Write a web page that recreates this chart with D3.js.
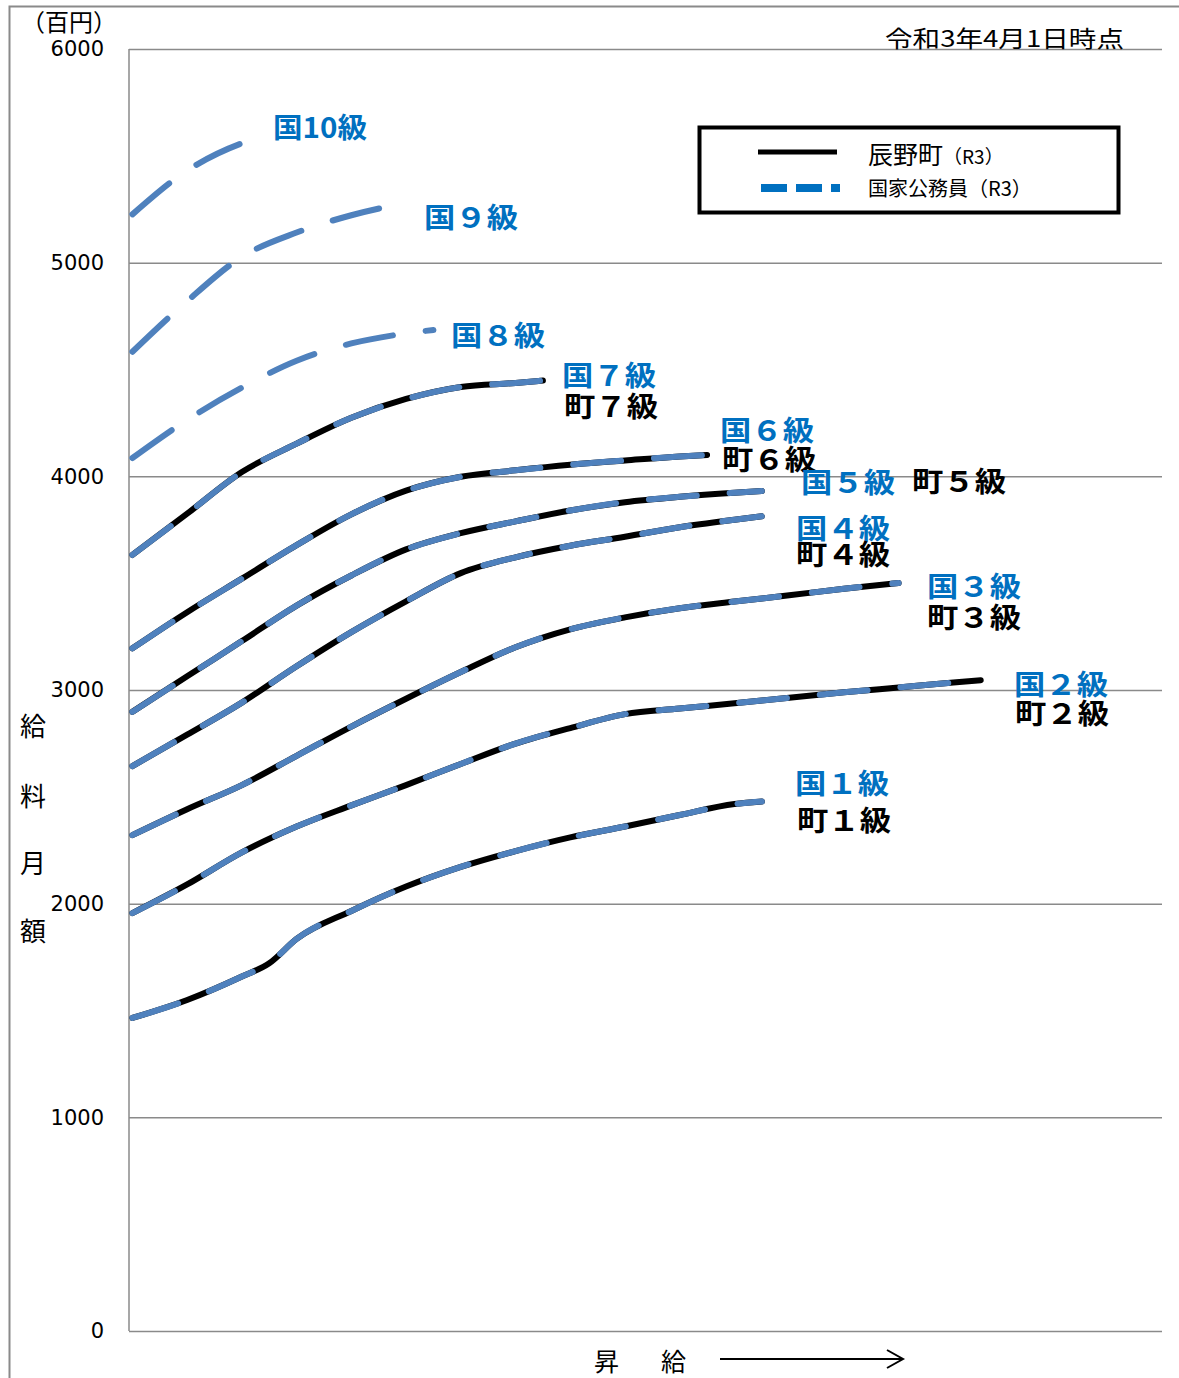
<!DOCTYPE html>
<html>
<head>
<meta charset="utf-8">
<title>給料月額 辰野町・国家公務員</title>
<style>
  body { margin: 0; background: #fff; }
  svg text { font-family: "Noto Sans CJK JP", sans-serif; }
  .tick text { font-family: "DejaVu Sans", sans-serif; font-size: 21px; fill: #000; }
  .tick line { stroke: #8a8a8a; stroke-width: 1.5; }
</style>
</head>
<body>
<div id="chart"></div>
<script src="https://cdn.jsdelivr.net/npm/d3@7/dist/d3.min.js"></script>
<script>
(function(d3) {
  'use strict';

  // 号給 (x) and 給料月額 in 百円 (y), one pair per 級
  var steps1 = [1, 9, 17, 21, 25, 33, 41, 49, 57, 65, 73, 81, 89, 93];
  var pay1   = [1465, 1549, 1659, 1721, 1835, 1966, 2080, 2172, 2246, 2310, 2361, 2415, 2466, 2478];
  var steps2 = [1, 9, 17, 25, 33, 41, 49, 57, 65, 73, 81, 89, 97, 105, 113, 121, 125];
  var pay2   = [1956, 2090, 2240, 2361, 2460, 2555, 2654, 2749, 2822, 2887, 2913, 2938, 2964, 2989, 3012, 3035, 3046];
  var steps3 = [1, 9, 17, 25, 33, 41, 49, 57, 65, 73, 81, 89, 97, 105, 113];
  var pay3   = [2321, 2442, 2555, 2692, 2829, 2959, 3084, 3200, 3284, 3340, 3383, 3414, 3443, 3474, 3501];
  var steps4 = [1, 9, 17, 25, 33, 41, 49, 57, 65, 73, 81, 89, 93];
  var pay4   = [2644, 2791, 2941, 3111, 3271, 3415, 3547, 3621, 3675, 3717, 3762, 3797, 3813];
  var steps5 = [1, 9, 17, 25, 33, 41, 49, 57, 65, 73, 81, 89, 93];
  var pay5   = [2898, 3064, 3229, 3395, 3536, 3658, 3734, 3789, 3840, 3879, 3904, 3923, 3931];
  var steps6 = [1, 9, 17, 25, 33, 41, 49, 57, 65, 73, 81, 85];
  var pay6   = [3195, 3364, 3521, 3678, 3822, 3933, 3998, 4028, 4054, 4074, 4093, 4100];
  var steps7 = [1, 9, 17, 25, 33, 41, 49, 57, 61];
  var pay7   = [3632, 3825, 4020, 4153, 4274, 4362, 4418, 4437, 4448];
  var steps8 = [1, 9, 17, 25, 33, 41, 45];
  var pay8   = [4086, 4264, 4415, 4541, 4622, 4669, 4685];
  var steps9 = [1, 9, 17, 25, 33, 41];
  var pay9   = [4583, 4820, 5027, 5141, 5222, 5280];
  var steps10 = [1, 9, 17, 21];
  var pay10   = [5226, 5431, 5559, 5598];

  // 辰野町 uses the same table as the national one for 1-7級 (lines coincide)
  var townGrades = [1, 2, 3, 4, 5, 6, 7];
  var yTicks = [0, 1000, 2000, 3000, 4000, 5000, 6000];

  var stepsByGrade = [steps1, steps2, steps3, steps4, steps5, steps6, steps7, steps8, steps9, steps10];
  var payByGrade = [pay1, pay2, pay3, pay4, pay5, pay6, pay7, pay8, pay9, pay10];

  function series(g) {
    return stepsByGrade[g - 1].map(function(s, i) {
      return { step: s, pay: payByGrade[g - 1][i] };
    });
  }

  var width = 1179, height = 1378;
  var left = 129, right = 1162, top = 49, bottom = 1331;

  var svg = d3.select('#chart').append('svg')
    .attr('width', width)
    .attr('height', height);

  // outer frame (runs off the right / bottom of the picture)
  svg.append('rect')
    .attr('x', 9.5).attr('y', 6.5)
    .attr('width', 1200).attr('height', 1400)
    .attr('fill', 'none')
    .attr('stroke', '#8a8a8a')
    .attr('stroke-width', 2);

  var x = d3.scaleLinear().domain([0.5, 151.5]).range([left, right]);
  var y = d3.scaleLinear().domain([0, 6000]).range([bottom, top]);

  // y axis with gridlines
  var yAxis = d3.axisLeft(y)
    .tickValues(yTicks)
    .tickSizeInner(-(right - left))
    .tickSizeOuter(0)
    .tickPadding(25)
    .tickFormat(d3.format('d'));

  var gy = svg.append('g')
    .attr('transform', 'translate(' + left + ',0)')
    .call(yAxis);
  gy.select('.domain').remove();

  svg.append('line')
    .attr('x1', left).attr('x2', left)
    .attr('y1', top).attr('y2', bottom)
    .attr('stroke', '#8a8a8a')
    .attr('stroke-width', 1.5);

  var line = d3.line()
    .x(function(d) { return x(d.step); })
    .y(function(d) { return y(d.pay); })
    .curve(d3.curveMonotoneX);

  // 辰野町: solid black
  svg.append('g').selectAll('path')
    .data(townGrades)
    .enter()
    .append('path')
    .attr('d', function(g) { return line(series(g)); })
    .attr('fill', 'none')
    .attr('stroke', '#000')
    .attr('stroke-width', 6)
    .attr('stroke-linejoin', 'round')
    .attr('stroke-linecap', 'round');

  // 国家公務員: blue long dash on top
  svg.append('g').selectAll('path')
    .data(d3.range(1, 11))
    .enter()
    .append('path')
    .attr('d', function(g) { return line(series(g)); })
    .attr('fill', 'none')
    .attr('stroke', '#4f81bd')
    .attr('stroke-width', 6)
    .attr('stroke-dasharray', '48,33')
    .attr('stroke-linejoin', 'round')
    .attr('stroke-linecap', 'round');

  // grade labels
  var labels = [
    { t: '国10級', x: 273, y: 138, c: '#0070c0' },
    { t: '国９級', x: 424, y: 228, c: '#0070c0' },
    { t: '国８級', x: 451, y: 346, c: '#0070c0' },
    { t: '国７級', x: 562, y: 386, c: '#0070c0' },
    { t: '町７級', x: 564, y: 417, c: '#000' },
    { t: '国６級', x: 720, y: 441, c: '#0070c0' },
    { t: '町６級', x: 722, y: 470, c: '#000' },
    { t: '国５級', x: 801, y: 493, c: '#0070c0' },
    { t: '町５級', x: 912, y: 492, c: '#000' },
    { t: '国４級', x: 796, y: 539, c: '#0070c0' },
    { t: '町４級', x: 796, y: 565, c: '#000' },
    { t: '国３級', x: 927, y: 597, c: '#0070c0' },
    { t: '町３級', x: 927, y: 628, c: '#000' },
    { t: '国２級', x: 1014, y: 695, c: '#0070c0' },
    { t: '町２級', x: 1015, y: 724, c: '#000' },
    { t: '国１級', x: 795, y: 794, c: '#0070c0' },
    { t: '町１級', x: 797, y: 831, c: '#000' }
  ];

  svg.append('g').selectAll('text')
    .data(labels)
    .enter()
    .append('text')
    .attr('x', function(d) { return d.x; })
    .attr('y', function(d) { return d.y; })
    .attr('fill', function(d) { return d.c; })
    .attr('font-size', 28)
    .attr('font-weight', 'bold')
    .attr('textLength', 94)
    .attr('lengthAdjust', 'spacingAndGlyphs')
    .text(function(d) { return d.t; });

  // legend
  var legend = svg.append('g');
  legend.append('rect')
    .attr('x', 699.5).attr('y', 127.5)
    .attr('width', 419).attr('height', 85)
    .attr('fill', '#fff')
    .attr('stroke', '#000')
    .attr('stroke-width', 4);
  legend.append('line')
    .attr('x1', 758).attr('x2', 837)
    .attr('y1', 152).attr('y2', 152)
    .attr('stroke', '#000')
    .attr('stroke-width', 5);
  legend.append('line')
    .attr('x1', 761).attr('x2', 840)
    .attr('y1', 188).attr('y2', 188)
    .attr('stroke', '#0070c0')
    .attr('stroke-width', 8)
    .attr('stroke-dasharray', '26,9');
  var l1 = legend.append('text').attr('x', 868).attr('y', 164).attr('font-size', 25);
  l1.append('tspan').text('辰野町');
  l1.append('tspan').attr('font-size', 19).text('（R3）');
  var l2 = legend.append('text').attr('x', 868).attr('y', 196).attr('font-size', 20);
  l2.append('tspan').text('国家公務員');
  l2.append('tspan').text('（R3）');

  // titles
  svg.append('text')
    .attr('x', 885).attr('y', 47)
    .attr('font-size', 23)
    .attr('textLength', 239)
    .attr('lengthAdjust', 'spacingAndGlyphs')
    .text('令和3年4月1日時点');

  svg.append('text')
    .attr('x', 21).attr('y', 31)
    .attr('font-size', 24)
    .text('（百円）');

  var yTitle = ['給', '料', '月', '額'];
  var yTitleY = [727, 797, 864, 932];
  svg.append('g').selectAll('text')
    .data(yTitle)
    .enter()
    .append('text')
    .attr('x', 33)
    .attr('y', function(d, i) { return yTitleY[i] + 9; })
    .attr('text-anchor', 'middle')
    .attr('font-size', 26)
    .text(function(d) { return d; });

  // 昇給 →
  svg.append('text').attr('x', 594).attr('y', 1371).attr('font-size', 25).text('昇');
  svg.append('text').attr('x', 661).attr('y', 1371).attr('font-size', 25).text('給');
  svg.append('line')
    .attr('x1', 720).attr('x2', 903)
    .attr('y1', 1359).attr('y2', 1359)
    .attr('stroke', '#000').attr('stroke-width', 2);
  svg.append('path')
    .attr('d', 'M887,1350L903,1359L887,1368')
    .attr('fill', 'none')
    .attr('stroke', '#000').attr('stroke-width', 2);

})(window.d3);
</script>
</body>
</html>
